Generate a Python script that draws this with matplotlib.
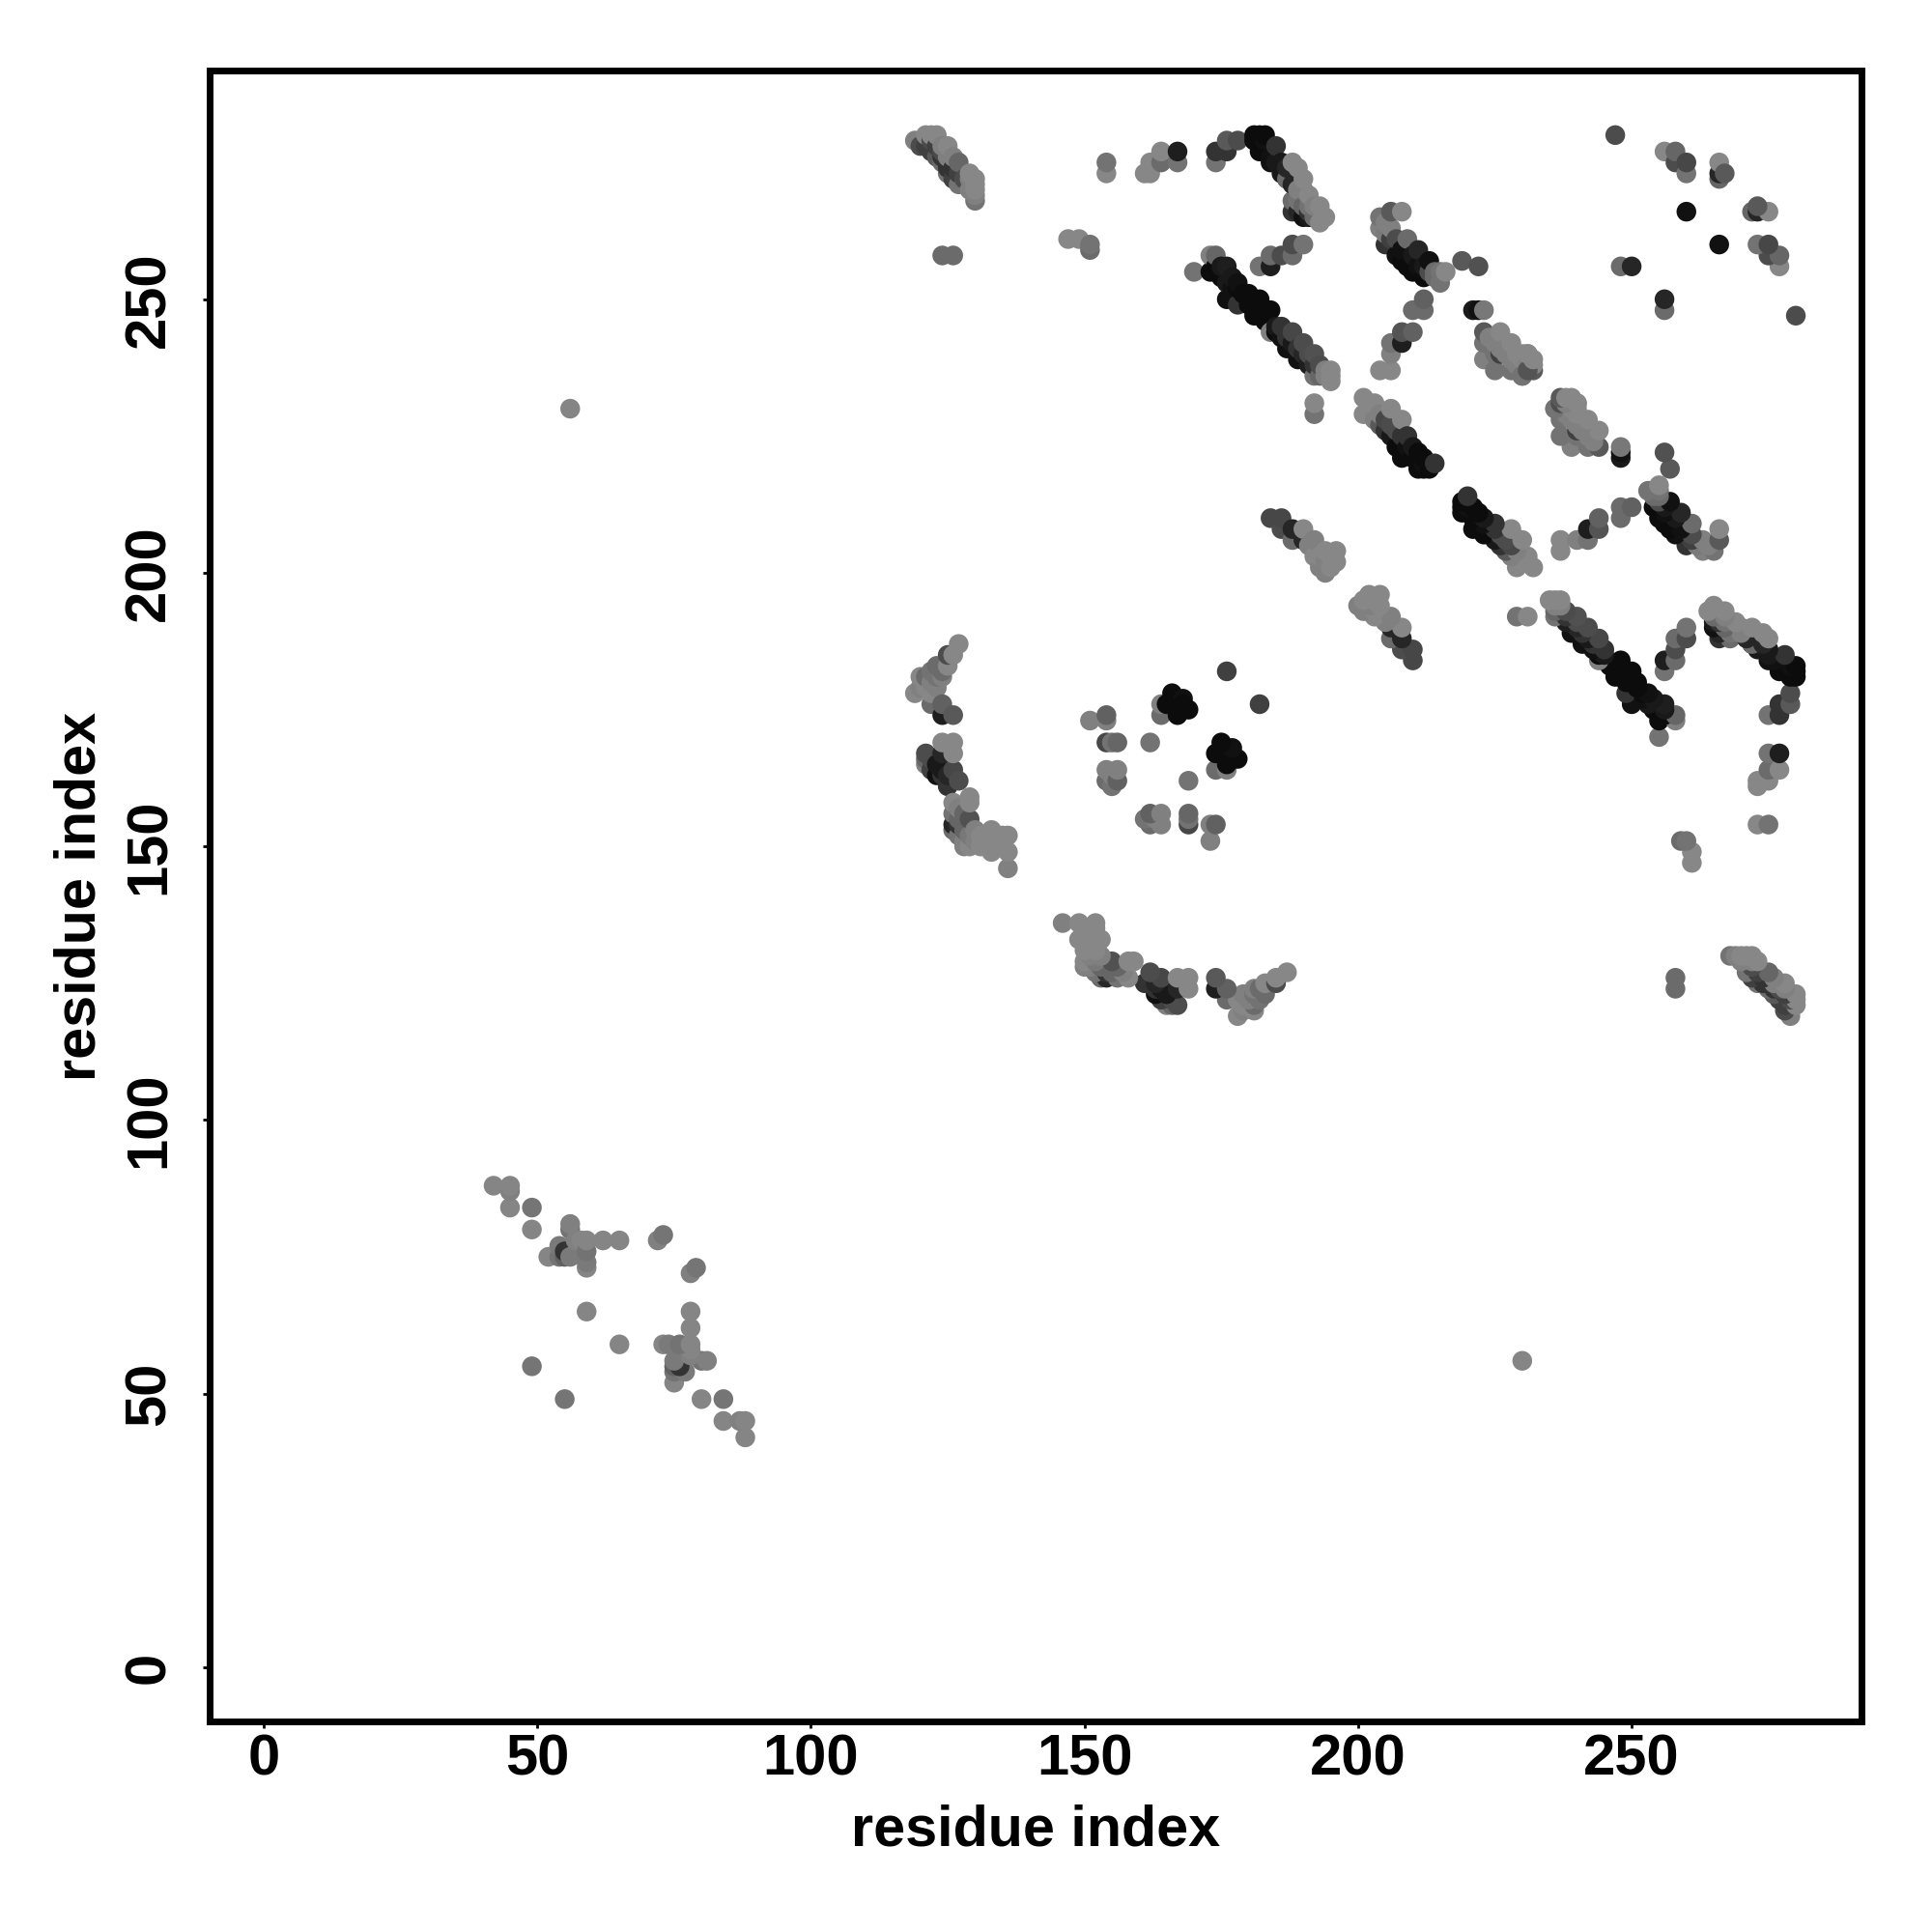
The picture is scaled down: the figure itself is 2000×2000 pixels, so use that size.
import numpy as np
import matplotlib
matplotlib.use('Agg')
import matplotlib.pyplot as plt

plt.rcParams['font.family'] = ['Liberation Sans', 'DejaVu Sans']

# residue contacts (i, j, gray level), only i < j, the map is symmetric
tail_contacts = [
    (42, 88, .52), (45, 88, .52), (45, 87, .5), (45, 84, .52), (49, 84, .46), (49, 80, .52),
    (56, 81, .5), (56, 80, .45), (52, 75, .52), (54, 77, .48), (54, 75, .45), (55, 75, .38),
    (55, 76, .2), (56, 75, .48), (57, 78, .5), (58, 78, .52), (59, 78, .52), (59, 76, .45),
    (59, 74, .48), (59, 73, .52), (62, 78, .52), (65, 78, .52), (72, 78, .5), (73, 79, .46),
    (59, 65, .52), (49, 55, .46), (56, 230, .52),
]
arc_120 = [
    (119, 279, .5), (121, 280, .53), (122, 280, .53), (123, 280, .53), (120, 278, .3),
    (121, 278, .25), (122, 277, .25), (124, 278, .5), (125, 278, .53), (123, 276, .35),
    (124, 275, .42), (125, 274, .2), (127, 275, .4), (125, 273, .45), (126, 272, .25),
    (127, 271, .45), (129, 273, .53), (130, 272, .53), (130, 271, .53), (130, 270, .53),
    (129, 270, .5), (130, 268, .45), (124, 258, .42), (126, 258, .42),
    (122, 279, .3), (123, 278, .25), (124, 277, .3), (124, 276, .2), (125, 276, .5),
    (126, 276, .5), (126, 274, .2), (127, 273, .25), (128, 272, .3), (128, 271, .45),
    (129, 272, .5), (130, 269, .5),
    (127, 187, .53), (126, 185, .53), (125, 185, .3), (123, 183, .42), (125, 183, .53),
    (124, 182, .42), (124, 181, .5), (120, 181, .53), (121, 181, .42), (119, 178, .53),
    (122, 178, .53), (121, 179, .53), (122, 176, .42), (124, 176, .38), (124, 174, .12),
    (126, 174, .35), (122, 182, .45), (123, 181, .45), (122, 180, .5), (120, 179, .5),
    (123, 179, .5),
]
arc_160 = [
    (124, 169, .53), (126, 169, .53), (126, 167, .53), (121, 167, .3), (124, 167, .15),
    (121, 166, .4), (121, 165, .5), (122, 164, .25), (123, 163, .07), (126, 164, .28),
    (125, 161, .2), (127, 162, .3), (129, 159, .53), (129, 158, .53), (126, 158, .53),
    (126, 156, .45), (129, 155, .32), (126, 154, .15), (126, 153, .42), (129, 152, .47),
    (129, 150, .53), (131, 152, .53), (133, 153, .53), (136, 152, .53), (133, 149, .53),
    (136, 149, .53), (136, 146, .5), (131, 150, .53), (134, 150, .53),
    (122, 166, .3), (123, 165, .1), (124, 164, .1), (124, 163, .2), (125, 163, .15),
    (127, 157, .5), (127, 155, .4), (127, 154, .2), (128, 156, .4), (128, 153, .4),
    (127, 152, .45), (128, 151, .5), (128, 150, .5), (130, 151, .5), (130, 153, .5),
    (132, 150, .53), (132, 152, .53), (134, 152, .53), (135, 150, .53), (135, 152, .53),
]
core_contacts = [
    (151, 173, .5), (154, 174, .38), (154, 173, .5), (154, 169, .28), (155, 169, .45),
    (156, 169, .4), (162, 169, .45), (154, 164, .5), (156, 164, .5), (154, 162, .42),
    (156, 162, .38), (155, 161, .45), (155, 163, .5), (164, 174, .42), (164, 176, .5),
    (166, 178, .05), (165, 176, .05), (168, 177, .07), (169, 175, .05), (167, 174, .05),
    (176, 182, .25), (176, 168, .05),
]
strand_a = [
    (154, 275, .45), (154, 273, .53), (161, 273, .53), (162, 273, .53), (162, 275, .53),
    (164, 277, .53), (164, 275, .42), (167, 275, .45), (167, 277, .12), (174, 275, .45),
    (174, 277, .2), (176, 277, .2), (176, 279, .35), (178, 279, .3), (181, 280, .05),
    (182, 280, .05), (183, 280, .05), (183, 279, .07), (182, 277, .05), (185, 278, .2),
    (184, 275, .07), (186, 273, .1), (187, 272, .12), (188, 271, .15), (188, 275, .53),
    (189, 274, .53), (190, 272, .53), (187, 272, .42), (188, 268, .42), (188, 266, .2),
    (191, 269, .53), (190, 265, .07), (189, 266, .15), (193, 267, .53), (194, 265, .53),
    (193, 264, .53), (192, 265, .42), (189, 270, .5),
    (181, 279, .05), (184, 276, .07), (185, 275, .1), (186, 275, .1), (187, 274, .15),
    (189, 268, .45), (190, 267, .4), (191, 266, .2), (191, 265, .1), (190, 270, .5),
    (191, 267, .45), (192, 267, .5),
    (147, 261, .53), (149, 261, .53), (151, 260, .45), (151, 259, .42),
]
strand_b = [
    (170, 255, .45), (173, 258, .5), (174, 258, .4), (173, 255, .05), (175, 254, .05),
    (176, 256, .12), (176, 253, .1), (177, 252, .07), (176, 250, .07), (178, 252, .05),
    (178, 249, .2), (182, 250, .05), (180, 251, .05), (184, 248, .05), (181, 247, .05),
    (174, 256, .05), (175, 256, .1), (177, 254, .1), (178, 253, .07), (179, 251, .05),
    (180, 249, .05), (182, 248, .05), (183, 248, .05), (183, 246, .05),
    (182, 256, .45), (184, 258, .42), (184, 256, .12), (186, 258, .3), (188, 258, .42),
    (188, 260, .3), (190, 260, .45),
    (184, 244, .5), (185, 244, .05), (188, 244, .28), (190, 242, .3), (192, 240, .32),
    (189, 239, .07), (187, 241, .07), (191, 238, .12), (194, 237, .5), (195, 237, .53),
    (195, 236, .53), (195, 235, .53), (192, 236, .45), (192, 231, .53), (192, 229, .45),
    (185, 245, .1), (186, 245, .2), (186, 243, .07), (187, 243, .2), (188, 242, .1),
    (189, 241, .2), (190, 240, .15), (191, 240, .3), (192, 238, .2), (193, 238, .3),
    (193, 236, .4), (194, 236, .5),
]
strand_c = [
    (184, 210, .28), (186, 210, .28), (186, 208, .3), (188, 208, .15), (190, 208, .53),
    (188, 206, .42), (190, 206, .15), (192, 206, .5), (196, 204, .53), (192, 203, .53),
    (196, 202, .53), (194, 202, .5), (194, 200, .5), (195, 201, .53), (193, 201, .5),
    (191, 205, .5), (193, 203, .53), (194, 204, .53), (195, 203, .53),
    (201, 232, .53), (201, 229, .53), (203, 231, .53), (203, 228, .5), (205, 228, .28),
    (206, 230, .53), (208, 228, .53), (205, 226, .2), (207, 223, .05), (209, 225, .2),
    (208, 221, .05), (211, 222, .05), (211, 219, .05), (213, 219, .05), (212, 220, .07),
    (214, 220, .2), (202, 230, .53), (204, 229, .5), (204, 227, .35), (206, 227, .3),
    (206, 225, .1), (207, 226, .3), (208, 225, .2), (208, 223, .05), (209, 223, .07),
    (210, 223, .1), (210, 221, .05), (212, 221, .05), (212, 219, .05),
]
strand_d = [
    (204, 265, .45), (206, 266, .35), (208, 266, .53), (204, 263, .5), (206, 263, .5),
    (205, 264, .5), (205, 262, .48), (206, 261, .25), (207, 261, .3), (205, 260, .2),
    (207, 258, .07), (209, 261, .42), (211, 259, .15), (208, 259, .07), (208, 257, .05),
    (210, 258, .1), (209, 256, .05), (210, 255, .05), (211, 256, .07), (212, 256, .1),
    (213, 257, .07), (212, 254, .05), (213, 255, .3), (214, 255, .42), (215, 255, .45),
    (214, 254, .42), (215, 253, .45), (216, 255, .53),
    (219, 257, .35), (222, 256, .32), (212, 250, .38), (210, 248, .42), (212, 248, .42),
    (221, 248, .1), (223, 248, .47), (208, 244, .33), (210, 244, .38), (206, 242, .45),
    (208, 242, .12), (206, 240, .5), (204, 237, .53), (206, 237, .53),
]
strand_e = [
    (223, 244, .35), (226, 244, .53), (223, 242, .45), (224, 243, .5), (228, 242, .53),
    (225, 240, .45), (226, 240, .25), (230, 240, .53), (231, 240, .53), (228, 237, .45),
    (231, 237, .3), (230, 236, .45), (225, 242, .5), (226, 241, .5), (227, 241, .5),
    (227, 240, .5), (228, 239, .5), (229, 238, .5), (229, 240, .53), (230, 239, .53),
    (231, 238, .5), (232, 238, .53), (232, 237, .35),
    (236, 230, .45), (237, 231, .33), (239, 232, .53), (240, 231, .53),
]
far_contacts = [
    (247, 280, .3), (256, 277, .53), (258, 277, .4), (258, 275, .3), (260, 275, .28),
    (260, 273, .45), (266, 275, .53), (266, 272, .4), (266, 273, .15), (267, 273, .35),
    (260, 266, .07), (248, 256, .42), (250, 256, .15),
    (223, 239, .5), (225, 237, .45), (222, 248, .07),
]
ticks = [0, 50, 100, 150, 200, 250]

contacts = np.array(tail_contacts + arc_120 + arc_160 + core_contacts + strand_a
                    + strand_b + strand_c + strand_d + strand_e + far_contacts)
# drawn in residue order so later pairs sit on top
contacts = contacts[np.lexsort((contacts[:, 1], contacts[:, 0]))]
i, j, gray = contacts[:, 0], contacts[:, 1], contacts[:, 2]

fig = plt.figure(figsize=(10, 10), dpi=200)
ax = fig.add_axes([217 / 2000, 1 - 1782 / 2000, 1710 / 2000, 1709 / 2000])
for px, py in [(i, j), (j, i)]:
    ax.scatter(px, py, c=gray, cmap='gray', vmin=0, vmax=1, s=54, linewidths=0, zorder=2)

ax.set_xlim(-9.9, 292)
ax.set_ylim(-9.9, 291.8)
ax.set_xticks(ticks)
ax.set_yticks(ticks)
ax.tick_params(axis='both', length=2.5, width=1, labelsize=21.5)
ax.tick_params(axis='x', pad=2)
ax.tick_params(axis='y', pad=10)
plt.setp(ax.get_xticklabels(), fontweight='bold')
plt.setp(ax.get_yticklabels(), fontweight='bold', rotation=90, va='center')
ax.set_xlabel('residue index', fontsize=21.4, fontweight='bold')
ax.set_ylabel('residue index', fontsize=21.4, fontweight='bold')
ax.xaxis.set_label_coords(0.5, -0.05)
ax.yaxis.set_label_coords(-0.062, 0.5)
for s in ax.spines.values():
    s.set_linewidth(2.5)

fig.savefig('out.png', dpi=200)
